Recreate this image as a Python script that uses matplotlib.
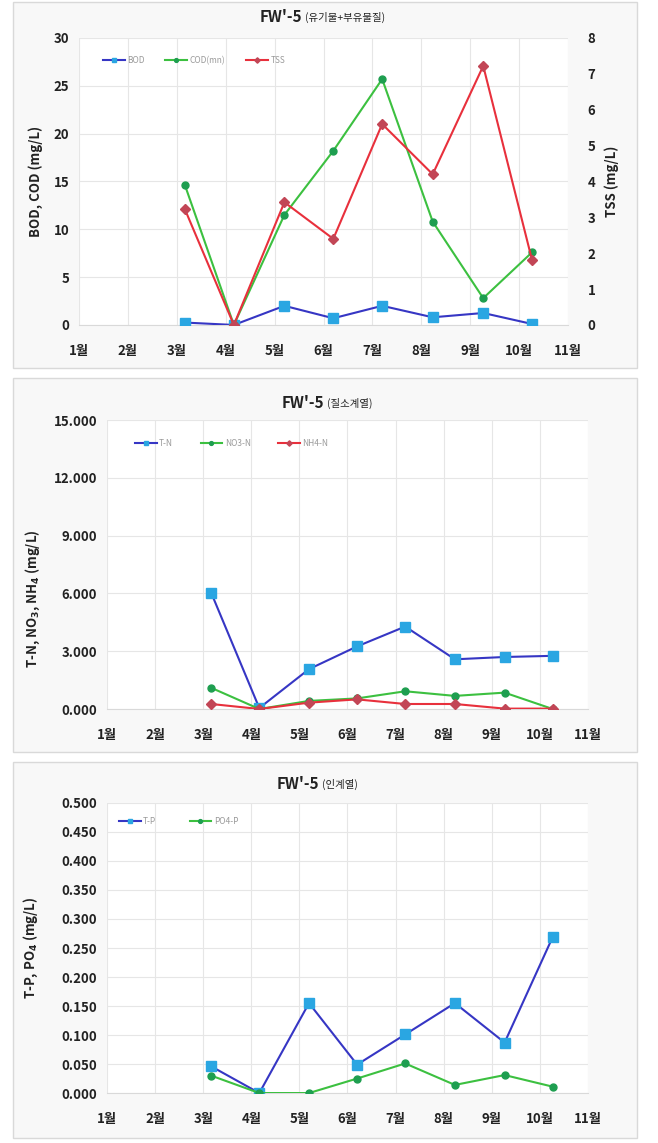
import numpy as np
import matplotlib
matplotlib.use('Agg')
import matplotlib.pyplot as plt
from matplotlib.patches import FancyBboxPatch

plt.rcParams['font.family'] = ['Noto Sans CJK KR', 'DejaVu Sans']
plt.rcParams['mathtext.default'] = 'bf'

# donnees
month_labels = ['1월', '2월', '3월', '4월', '5월', '6월', '7월', '8월', '9월', '10월', '11월']
sample_month = [3, 4, 5, 6, 7, 8, 9, 10]
sample_day = [6, 6, 7, 7, 7, 8, 9, 9]

bod = [0.25, 0.0, 2.0, 0.7, 2.0, 0.8, 1.25, 0.1]
cod = [14.6, 0.0, 11.5, 18.2, 25.7, 10.8, 2.8, 7.6]
tss = [3.22, 0.0, 3.42, 2.4, 5.6, 4.2, 7.22, 1.8]

tn = [6.03, 0.05, 2.07, 3.25, 4.28, 2.58, 2.7, 2.76]
no3 = [1.1, 0.0, 0.42, 0.55, 0.92, 0.68, 0.85, 0.0]
nh4 = [0.26, 0.0, 0.33, 0.5, 0.26, 0.26, 0.02, 0.02]

tp = [0.046, 0.0, 0.155, 0.049, 0.101, 0.155, 0.087, 0.269]
po4 = [0.030, 0.0, 0.0, 0.025, 0.051, 0.014, 0.031, 0.011]

x = np.array(sample_month) + (np.array(sample_day) - 1) / 30.0

BLUE_LINE = '#3636C4'
BLUE_MK = '#2AA6E2'
GREEN_LINE = '#3CC040'
GREEN_MK = '#1E9E50'
RED_LINE = '#E8303C'
RED_MK = '#C24656'
TXT = '#222222'

fig = plt.figure(figsize=(6.58, 11.43), dpi=100)

# cadres gris des trois graphiques
for (b, h) in [(0.678, 0.320), (0.342, 0.327), (0.0044, 0.329)]:
    fig.patches.append(FancyBboxPatch((0.0198, b), 0.948, h, boxstyle='square,pad=0',
                                      transform=fig.transFigure, facecolor='#F8F8F8',
                                      edgecolor='#D9D9D9', linewidth=1.0, zorder=-1))


def style_axes(ax, ymax, ystep, fmt):
    ax.set_facecolor('white')
    ax.set_xlim(1, 11)
    ax.set_xticks(range(1, 12))
    ax.set_xticklabels(month_labels)
    ax.set_ylim(0, ymax)
    ax.set_yticks(np.arange(0, ymax + ystep / 2, ystep))
    ax.set_yticklabels([fmt.format(v) for v in np.arange(0, ymax + ystep / 2, ystep)])
    ax.grid(True, color='#E6E6E6', linewidth=0.8)
    ax.set_axisbelow(True)
    for s in ['top', 'right', 'left']:
        ax.spines[s].set_visible(False)
    ax.spines['bottom'].set_color('#D9D9D9')
    ax.tick_params(length=0, labelsize=9.5, labelcolor=TXT)
    for t in ax.get_xticklabels() + ax.get_yticklabels():
        t.set_fontweight('bold')
    ax.tick_params(axis='x', pad=14)
    ax.tick_params(axis='y', pad=7)


def title(xj, y, sub):
    fig.text(xj / 658, 1 - y / 1143, "FW'-5", ha='right', va='center', fontsize=11,
             fontweight='bold', color=TXT)
    fig.text(xj / 658 + 0.004, 1 - y / 1143, sub, ha='left', va='center', fontsize=7.5,
             color=TXT)


def leg(ax, handles, labels, x0, y0, colsp):
    ax.legend(handles, labels, loc='center left', bbox_to_anchor=(x0, y0), ncol=3,
              frameon=False, fontsize=6, labelcolor='#9A9A9A', handlelength=2.6,
              columnspacing=colsp, handletextpad=0.3, borderpad=0, borderaxespad=0,
              markerscale=0.55)


# --- graphique 1 : matiere organique
ax1 = fig.add_axes([0.1201, 0.7157, 0.7431, 0.2511])
style_axes(ax1, 30, 5, '{:.0f}')
l1, = ax1.plot(x, bod, color=BLUE_LINE, lw=1.5, marker='s', ms=6.5, mfc=BLUE_MK, mec=BLUE_MK, zorder=3)
l2, = ax1.plot(x, cod, color=GREEN_LINE, lw=1.5, marker='o', ms=5, mfc=GREEN_MK, mec=GREEN_MK, zorder=3)
ax1b = ax1.twinx()
ax1b.set_ylim(0, 8)
ax1b.set_yticks(range(0, 9))
l3, = ax1b.plot(x, tss, color=RED_LINE, lw=1.5, marker='D', ms=5, mfc=RED_MK, mec=RED_MK, zorder=3)
for s in ['top', 'right', 'left', 'bottom']:
    ax1b.spines[s].set_visible(False)
ax1b.tick_params(length=0, labelsize=9.5, labelcolor=TXT, pad=14)
for t in ax1b.get_yticklabels():
    t.set_fontweight('bold')
ax1.set_ylabel('BOD, COD (mg/L)', fontsize=9.5, fontweight='bold', color=TXT)
ax1.yaxis.set_label_coords(-0.074, 0.5)
ax1b.set_ylabel('TSS (mg/L)', fontsize=9.5, fontweight='bold', color=TXT)
ax1b.yaxis.set_label_coords(1.074, 0.5)
leg(ax1b, [l1, l2, l3], ['BOD', 'COD(mn)', 'TSS'], 0.049, 0.922, 2.5)
title(302, 17, '(유기물+부유물질)')

# --- graphique 2 : azote
ax2 = fig.add_axes([0.1626, 0.3797, 0.7310, 0.2528])
style_axes(ax2, 15, 3, '{:.3f}')
m1, = ax2.plot(x, tn, color=BLUE_LINE, lw=1.5, marker='s', ms=6.5, mfc=BLUE_MK, mec=BLUE_MK, zorder=3)
m2, = ax2.plot(x, no3, color=GREEN_LINE, lw=1.5, marker='o', ms=5, mfc=GREEN_MK, mec=GREEN_MK, zorder=3)
m3, = ax2.plot(x, nh4, color=RED_LINE, lw=1.5, marker='D', ms=5, mfc=RED_MK, mec=RED_MK, zorder=3)
ax2.set_ylabel('T-N, NO$_3$, NH$_4$ (mg/L)', fontsize=9.5, fontweight='bold', color=TXT)
ax2.yaxis.set_label_coords(-0.135, 0.38)
leg(ax2, [m1, m2, m3], ['T-N', 'NO3-N', 'NH4-N'], 0.058, 0.92, 3.3)
title(324, 403, '(질소계열)')

# --- graphique 3 : phosphore
ax3 = fig.add_axes([0.1626, 0.0437, 0.7310, 0.2538])
style_axes(ax3, 0.5, 0.05, '{:.3f}')
n1, = ax3.plot(x, tp, color=BLUE_LINE, lw=1.5, marker='s', ms=6.5, mfc=BLUE_MK, mec=BLUE_MK, zorder=3)
n2, = ax3.plot(x, po4, color=GREEN_LINE, lw=1.5, marker='o', ms=5, mfc=GREEN_MK, mec=GREEN_MK, zorder=3)
ax3.set_ylabel('T-P, PO$_4$ (mg/L)', fontsize=9.5, fontweight='bold', color=TXT)
ax3.yaxis.set_label_coords(-0.139, 0.5)
leg(ax3, [n1, n2], ['T-P', 'PO4-P'], 0.025, 0.935, 4.0)
title(319, 784, '(인계열)')

fig.savefig('out.png', dpi=100)
